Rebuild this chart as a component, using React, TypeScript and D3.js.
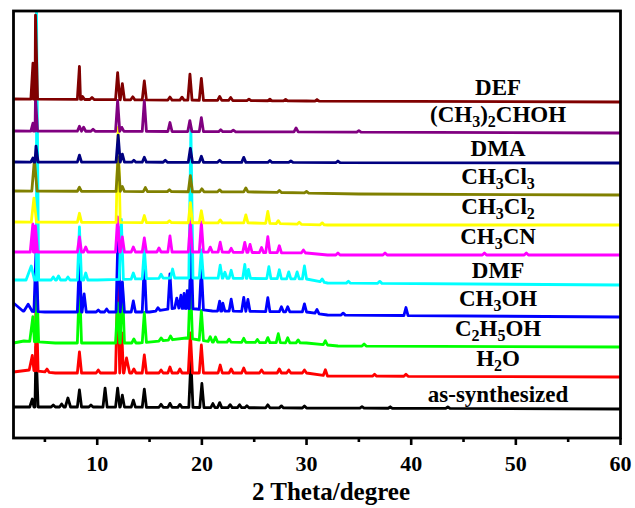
import React, { useEffect, useRef } from "react";
import * as d3 from "d3";

// sample names, bottom to top
const names = [
  "as-synthesized",
  "H_2O",
  "C_2H_5OH",
  "CH_3OH",
  "DMF",
  "CH_3CN",
  "CH_3Cl_2",
  "CH_3Cl_3",
  "DMA",
  "(CH_3)_2CHOH",
  "DEF",
];

const colors = [
  "#000000",
  "#ff0000",
  "#00ff00",
  "#0000ff",
  "#00ffff",
  "#ff00ff",
  "#ffff00",
  "#808000",
  "#000080",
  "#800080",
  "#800000",
];

// vertical offset of each pattern (a.u.)
const offsets = [31, 65, 95, 126, 158, 186, 216, 247, 276, 307, 339];

// peaks: [2theta, intensity, half width]
const peaksAsSynth = [
  [3.8, 8, 0.25], [4.15, 60], [5.8, 2], [6.6, 3], [7.2, 9, 0.25], [8.3, 17], [9.4, 2],
  [10.75, 19], [11.95, 19], [12.4, 12], [13.45, 7], [14.5, 18], [16.1, 3], [16.95, 4],
  [17.9, 3], [18.95, 47], [20.0, 24], [21.05, 4], [21.7, 5], [22.7, 3], [23.6, 3],
  [24.3, 2], [26.3, 3], [27.6, 2], [29.8, 2], [35.3, 1.5], [38.0, 1.5], [43.5, 1.5],
];
const peaksH2O = [
  [3.8, 15, 0.3], [4.15, 85], [5.2, 3], [8.3, 21], [10.1, 3], [11.95, 90], [12.35, 40],
  [12.8, 15, 0.3], [13.5, 4], [14.5, 18], [16.1, 3], [16.95, 6], [17.9, 4], [18.9, 40],
  [19.95, 28], [21.75, 8], [22.8, 4], [24.0, 5], [25.7, 3], [27.4, 4], [28.3, 3],
  [29.8, 3], [31.8, 6], [36.5, 2], [39.5, 2],
];
const peaksEtOH = [
  [3.85, 25, 0.3], [4.2, 70], [8.3, 62], [11.95, 40], [12.4, 60], [13.5, 4], [14.5, 30],
  [16.1, 3], [17.0, 4], [18.9, 60], [19.95, 30], [20.8, 5], [21.3, 5], [22.6, 3],
  [24.0, 4], [25.3, 3], [26.3, 5], [27.3, 9], [28.2, 5], [29.2, 3], [31.8, 4], [35.5, 2],
];
const peaksMeOH = [
  [3.4, 7, 0.4], [4.15, 60], [8.3, 55], [8.75, 18], [10.1, 2], [10.9, 3], [12.0, 85],
  [12.4, 30], [13.45, 11], [14.5, 50], [15.8, 3], [16.95, 35], [17.6, 10], [18.0, 13],
  [18.3, 15], [18.6, 18], [18.95, 70], [19.95, 42], [21.7, 10], [22.0, 8], [22.8, 12],
  [24.0, 14], [24.4, 12], [26.3, 14], [27.6, 5], [28.2, 5], [29.8, 8], [31.0, 4],
  [33.5, 2], [39.5, 8],
];
const peaksDMF = [
  [3.7, 14, 0.5], [4.2, 268], [5.8, 3], [6.3, 4], [7.2, 3], [8.3, 53], [8.9, 7],
  [12.3, 60], [13.45, 6], [14.5, 30], [16.1, 4], [17.2, 9], [18.95, 150], [19.95, 28],
  [21.75, 13], [22.2, 6], [22.8, 8], [24.1, 14], [24.45, 9], [26.4, 12], [27.4, 9],
  [28.3, 7], [29.1, 7], [29.8, 13], [31.5, 3], [34, 2], [37, 2],
];
const peaksMeCN = [
  [3.85, 28, 0.25], [4.1, 26], [8.3, 15], [8.9, 5], [11.95, 35], [12.4, 15], [13.45, 5],
  [14.5, 14], [15.9, 4], [16.95, 16], [18.9, 30], [19.95, 30], [20.8, 5], [21.75, 10],
  [22.8, 4], [24.1, 10], [24.6, 8], [25.7, 5], [26.3, 16], [27.4, 7], [29.7, 3],
  [33, 2], [37.5, 2], [47, 2], [51, 2],
];
const peaksCl2 = [
  [3.95, 24, 0.25], [8.3, 9], [12.0, 95], [14.5, 7], [16.9, 2], [18.9, 20], [19.95, 12],
  [21.75, 3], [24.2, 8], [26.3, 12], [27.3, 3], [29.3, 2], [31.5, 2],
];
const peaksCl3 = [
  [4.0, 32, 0.25], [8.3, 4], [12.0, 34], [12.4, 5], [14.6, 4], [16.9, 2], [18.9, 16],
  [20.0, 3], [21.7, 2], [24.2, 4], [27.4, 2], [30, 1.5],
];
const peaksDMA = [
  [3.85, 4], [4.15, 16], [8.3, 7], [12.0, 27], [12.4, 8], [13.5, 2], [14.5, 5],
  [16.5, 2], [18.9, 14], [19.95, 6], [21.7, 2], [24.0, 5], [26.5, 2], [28.5, 1.5], [33, 1.5],
];
const peaksIPA = [
  [3.86, 8], [4.1, 33], [8.3, 5], [8.7, 4], [9.6, 2], [11.95, 31], [12.35, 4],
  [14.5, 31], [16.95, 9], [18.85, 11], [19.95, 14], [21.8, 2], [23, 1.5], [29.0, 4], [35, 1.5],
];
const peaksDEF = [
  [3.86, 36], [4.1, 84], [8.3, 33], [8.6, 3], [9.5, 2], [11.95, 27], [12.4, 16],
  [13.4, 3], [14.5, 19], [16.95, 3], [18.1, 3], [18.86, 26], [19.95, 22], [21.7, 4],
  [22.75, 3], [24.5, 1.5], [26.5, 1.5], [28, 1.5], [31, 1.5],
];

// background drift: [2theta, a.u.]
const bgAsSynth = [[2, 0], [10, 0], [30, -1], [60, -2]];
const bgH2O = [[2, 1], [3.5, 3], [6, 0], [20, 0], [30, 0], [32, -3], [60, -4]];
const bgEtOH = [[2, 0], [3, 2], [6, 0], [14, 0], [17, 3], [18.5, 5], [21, 1], [30, 0], [33, -3], [60, -4]];
const bgMeOH = [[2, 9], [2.9, 1], [5, 0], [15, 0], [17.5, 4], [19.5, 3], [21, 1], [30, 0], [32, -3], [60, -5]];
const bgDMF = [[2, 0], [10, 0], [17, 2], [20, 2], [30, 1], [32, -3], [60, -5]];
const bgMeCN = [[2, 0], [20, 0], [30, -1], [32, -3], [60, -3]];
const bgCl2 = [[2, 0], [25, -1], [32, -3], [60, -3]];
const bgCl3 = [[2, 0], [25, -1], [35, -3], [60, -4]];
const bgDMA = [[2, 0], [60, -1]];
const bgIPA = [[2, 0], [60, -2]];
const bgDEF = [[2, 0], [30, -2], [60, -3]];

const peakSets = [peaksAsSynth, peaksH2O, peaksEtOH, peaksMeOH, peaksDMF, peaksMeCN, peaksCl2, peaksCl3, peaksDMA, peaksIPA, peaksDEF];
const bgSets = [bgAsSynth, bgH2O, bgEtOH, bgMeOH, bgDMF, bgMeCN, bgCl2, bgCl3, bgDMA, bgIPA, bgDEF];

const majorTicks = [10, 20, 30, 40, 50, 60];
const minorTicks = [5, 15, 25, 35, 45, 55];

const W = 635;
const H = 508;
const FONT = "'Liberation Serif', 'Times New Roman', serif";
const HALF = 0.2;

const buildPoints = (peaks, bg) => {
  const bgAt = d3
    .scaleLinear()
    .domain(bg.map((d) => d[0]))
    .range(bg.map((d) => d[1]))
    .clamp(true);
  const pts = [];
  const windows = peaks.map((p) => [p[0] - (p[2] ?? HALF), p[0] + (p[2] ?? HALF)]);
  bg.forEach(([t]) => {
    if (!windows.some(([a, b]) => t > a && t < b)) pts.push([t, bgAt(t)]);
  });
  peaks.forEach((p) => {
    const w = p[2] ?? HALF;
    pts.push([p[0] - w, bgAt(p[0] - w)]);
    pts.push([p[0], bgAt(p[0]) + p[1]]);
    pts.push([p[0] + w, bgAt(p[0] + w)]);
  });
  pts.sort((a, b) => a[0] - b[0]);
  return { pts, end: bgAt(60) };
};

const App = () => {
  const ref = useRef(null);

  useEffect(() => {
    const svg = d3.select(ref.current);
    svg.selectAll("*").remove();

    const x = d3.scaleLinear().domain([2, 60]).range([13.5, 620.5]);
    const y = d3.scaleLinear().domain([0, 427]).range([438, 11]);

    const line = d3
      .line()
      .x((d) => x(d[0]))
      .y((d) => y(d[1]));

    const g = svg.append("g");

    // patterns, bottom one first
    names.forEach((name, i) => {
      const { pts } = buildPoints(peakSets[i], bgSets[i]);
      g.append("path")
        .datum(pts.map((d) => [d[0], d[1] + offsets[i]]))
        .attr("fill", "none")
        .attr("stroke", colors[i])
        .attr("stroke-width", 2.8)
        .attr("stroke-linejoin", "round")
        .attr("d", line);
    });

    // labels
    names.forEach((name, i) => {
      const { end } = buildPoints(peakSets[i], bgSets[i]);
      const hasSub = name.includes("_");
      const text = g
        .append("text")
        .attr("x", x(48.3))
        .attr("y", y(offsets[i] + end + (hasSub ? 11 : 7)))
        .attr("text-anchor", "middle")
        .attr("font-family", FONT)
        .attr("font-weight", "bold")
        .attr("font-size", 23)
        .attr("fill", "#000");
      const parts = name.split(/_(\d)/);
      parts.forEach((part, j) => {
        if (!part) return;
        if (j % 2 === 1) {
          text.append("tspan").attr("font-size", 16).attr("dy", 5).text(part);
        } else {
          const t = text.append("tspan").text(part);
          if (j > 0) t.attr("dy", -5);
        }
      });
    });

    // frame
    svg
      .append("rect")
      .attr("x", x(2))
      .attr("y", y(427))
      .attr("width", x(60) - x(2))
      .attr("height", y(0) - y(427))
      .attr("fill", "none")
      .attr("stroke", "#000")
      .attr("stroke-width", 2.8);

    // ticks
    svg
      .selectAll("line.major")
      .data(majorTicks)
      .enter()
      .append("line")
      .attr("x1", (d) => x(d))
      .attr("x2", (d) => x(d))
      .attr("y1", y(0))
      .attr("y2", y(0) + 7)
      .attr("stroke", "#000")
      .attr("stroke-width", 2.6);

    svg
      .selectAll("line.minor")
      .data(minorTicks)
      .enter()
      .append("line")
      .attr("x1", (d) => x(d))
      .attr("x2", (d) => x(d))
      .attr("y1", y(0))
      .attr("y2", y(0) + 4)
      .attr("stroke", "#000")
      .attr("stroke-width", 2.6);

    svg
      .selectAll("text.tick")
      .data(majorTicks)
      .enter()
      .append("text")
      .attr("x", (d) => x(d))
      .attr("y", 471)
      .attr("text-anchor", "middle")
      .attr("font-family", FONT)
      .attr("font-weight", "bold")
      .attr("font-size", 22)
      .text((d) => d);

    svg
      .append("text")
      .attr("x", 331)
      .attr("y", 500)
      .attr("text-anchor", "middle")
      .attr("font-family", FONT)
      .attr("font-weight", "bold")
      .attr("font-size", 25)
      .text("2 Theta/degree");
  }, []);

  return (
    <svg
      ref={ref}
      width={W}
      height={H}
      style={{ position: "absolute", left: 0, top: 0, background: "#fff" }}
    />
  );
};

export default App;
